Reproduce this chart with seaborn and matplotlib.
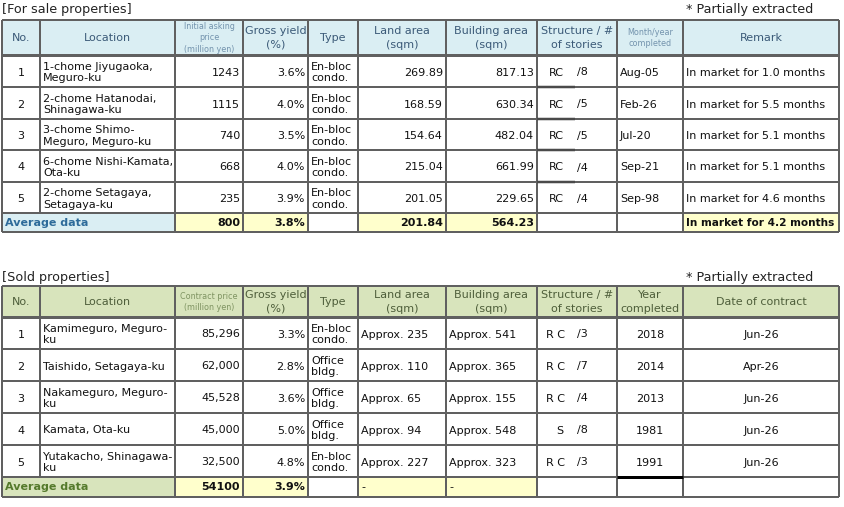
import matplotlib
matplotlib.use("Agg")
import matplotlib.pyplot as plt
from matplotlib.patches import Rectangle
import seaborn as sns

# ---- data: for sale properties ----
sale_no = [1, 2, 3, 4, 5]
sale_location = ["1-chome Jiyugaoka,\nMeguro-ku", "2-chome Hatanodai,\nShinagawa-ku",
                 "3-chome Shimo-\nMeguro, Meguro-ku", "6-chome Nishi-Kamata,\nOta-ku",
                 "2-chome Setagaya,\nSetagaya-ku"]
sale_price = [1243, 1115, 740, 668, 235]
sale_yield = [3.6, 4.0, 3.5, 4.0, 3.9]
sale_type = ["En-bloc\ncondo."] * 5
sale_land = [269.89, 168.59, 154.64, 215.04, 201.05]
sale_building = [817.13, 630.34, 482.04, 661.99, 229.65]
sale_structure = ["RC", "RC", "RC", "RC", "RC"]
sale_stories = [8, 5, 5, 4, 4]
sale_completed = ["Aug-05", "Feb-26", "Jul-20", "Sep-21", "Sep-98"]
sale_months = [1.0, 5.5, 5.1, 5.1, 4.6]
sale_avg_price = 800
sale_avg_yield = 3.8
sale_avg_land = 201.84
sale_avg_building = 564.23
sale_avg_months = 4.2

# ---- data: sold properties ----
sold_no = [1, 2, 3, 4, 5]
sold_location = ["Kamimeguro, Meguro-\nku", "Taishido, Setagaya-ku", "Nakameguro, Meguro-\nku",
                 "Kamata, Ota-ku", "Yutakacho, Shinagawa-\nku"]
sold_price = [85296, 62000, 45528, 45000, 32500]
sold_yield = [3.3, 2.8, 3.6, 5.0, 4.8]
sold_type = ["En-bloc\ncondo.", "Office\nbldg.", "Office\nbldg.", "Office\nbldg.", "En-bloc\ncondo."]
sold_land = [235, 110, 65, 94, 227]
sold_building = [541, 365, 155, 548, 323]
sold_structure = ["R C", "R C", "R C", "S", "R C"]
sold_stories = [3, 7, 4, 8, 3]
sold_year = [2018, 2014, 2013, 1981, 1991]
sold_contract = ["Jun-26", "Apr-26", "Jun-26", "Jun-26", "Jun-26"]
sold_avg_price = 54100
sold_avg_yield = 3.9

sale_headers = ["No.", "Location", "Initial asking\nprice\n(million yen)", "Gross yield\n(%)", "Type",
                "Land area\n(sqm)", "Building area\n(sqm)", "Structure / #\nof stories",
                "Month/year\ncompleted", "Remark"]
sold_headers = ["No.", "Location", "Contract price\n(million yen)", "Gross yield\n(%)", "Type",
                "Land area\n(sqm)", "Building area\n(sqm)", "Structure / #\nof stories",
                "Year\ncompleted", "Date of contract"]

# ---- layout (pixels) ----
col_edges = [2, 40, 175, 243, 308, 358, 446, 537, 617, 683, 839]
sale_rows = [20, 55, 87, 119, 150, 182, 213, 232]
sold_rows = [286, 317, 349, 381, 413, 445, 477, 497]

sns.set_theme(style="white")
plt.rcParams["font.family"] = ["DejaVu Sans"]

fig = plt.figure(figsize=(8.44, 5.07), dpi=100)
ax = fig.add_axes([0, 0, 1, 1])
ax.set_xlim(0, 844)
ax.set_ylim(507, 0)
ax.axis("off")

FS = 8
PX = 72 / 100
GRID = "#606060"
YELLOW = "#ffffcc"
BODY = "#111111"


def cell_text(col, r0, r1, text, align="left", dy=1.5, **kw):
    x0, x1 = col_edges[col], col_edges[col + 1]
    if align == "left":
        x = x0 + 3
    elif align == "right":
        x = x1 - 3
    else:
        x = (x0 + x1) / 2
    kw.setdefault("fontsize", FS)
    kw.setdefault("color", BODY)
    kw.setdefault("linespacing", 1.15)
    ax.text(x, (r0 + r1) / 2 + dy, text, ha=align, va="center", **kw)


def draw_table(rows, headers, head_fill, head_color, small_color, small_cols, body, avg, avg_fill, avg_color):
    top, bottom = rows[0], rows[-1]
    ax.add_patch(Rectangle((col_edges[0], rows[0]), col_edges[-1] - col_edges[0], rows[1] - rows[0],
                           facecolor=head_fill, edgecolor="none"))
    for c0, c1, fill in avg_fill:
        ax.add_patch(Rectangle((col_edges[c0], rows[-2]), col_edges[c1] - col_edges[c0], rows[-1] - rows[-2],
                               facecolor=fill, edgecolor="none"))
    # header text
    for c, h in enumerate(headers):
        if c in small_cols:
            cell_text(c, rows[0], rows[1], h, "center", dy=0.5, fontsize=5.8, color=small_color, linespacing=1.4)
        else:
            cell_text(c, rows[0], rows[1], h, "center", dy=0.5, fontsize=FS, color=head_color, linespacing=1.4)
    # body text
    for i, row in enumerate(body):
        r0, r1 = rows[i + 1], rows[i + 2]
        for c, text, align in row:
            if c == 7:
                mat, st = text
                ax.text(col_edges[7] + (23 if mat == "S" else 19), (r0 + r1) / 2 + 1.5, mat,
                        ha="center", va="center", fontsize=FS, color=BODY)
                ax.text(col_edges[7] + 40, (r0 + r1) / 2 + 1.5, st,
                        ha="left", va="center", fontsize=FS, color=BODY)
            else:
                cell_text(c, r0, r1, text, align)
    # average row
    r0, r1 = rows[-2], rows[-1]
    ax.text(col_edges[0] + 3, (r0 + r1) / 2 + 0.5, "Average data", ha="left", va="center",
            fontsize=FS, color=avg_color, fontweight="bold")
    for c, text, align, bold, size in avg:
        cell_text(c, r0, r1, text, align, dy=0.5, fontsize=size, fontweight="bold" if bold else "normal")
    # grid lines
    lw = 2 * PX
    for y in rows:
        ax.hlines(y, col_edges[0], col_edges[-1], color=GRID, lw=lw)
    ax.hlines(rows[1], col_edges[0], col_edges[-1], color=GRID, lw=3 * PX)
    for j, x in enumerate(col_edges):
        if j == 1:
            ax.vlines(x, top, rows[-2], color=GRID, lw=lw)
        else:
            ax.vlines(x, top, bottom, color=GRID, lw=lw)


sale_body = []
for i in range(5):
    sale_body.append([
        (0, str(sale_no[i]), "center"),
        (1, sale_location[i], "left"),
        (2, f"{sale_price[i]}", "right"),
        (3, f"{sale_yield[i]:.1f}%", "right"),
        (4, sale_type[i], "left"),
        (5, f"{sale_land[i]:.2f}", "right"),
        (6, f"{sale_building[i]:.2f}", "right"),
        (7, (sale_structure[i], f"/{sale_stories[i]}"), "left"),
        (8, sale_completed[i], "left"),
        (9, f"In market for {sale_months[i]:.1f} months", "left"),
    ])
sale_avg = [(2, f"{sale_avg_price}", "right", True, FS), (3, f"{sale_avg_yield:.1f}%", "right", True, FS),
            (5, f"{sale_avg_land:.2f}", "right", True, FS), (6, f"{sale_avg_building:.2f}", "right", True, FS),
            (9, f"In market for {sale_avg_months:.1f} months", "left", True, 7.6)]

sold_body = []
for i in range(5):
    sold_body.append([
        (0, str(sold_no[i]), "center"),
        (1, sold_location[i], "left"),
        (2, f"{sold_price[i]:,}", "right"),
        (3, f"{sold_yield[i]:.1f}%", "right"),
        (4, sold_type[i], "left"),
        (5, f"Approx. {sold_land[i]}", "left"),
        (6, f"Approx. {sold_building[i]}", "left"),
        (7, (sold_structure[i], f"/{sold_stories[i]}"), "left"),
        (8, str(sold_year[i]), "center"),
        (9, sold_contract[i], "center"),
    ])
sold_avg = [(2, f"{sold_avg_price}", "right", True, FS), (3, f"{sold_avg_yield:.1f}%", "right", True, FS),
            (5, "-", "left", False, FS), (6, "-", "left", False, FS)]

# titles
ax.text(2, 9, "[For sale properties]", ha="left", va="center", fontsize=9.2, color="#222222")
ax.text(813, 9, "* Partially extracted", ha="right", va="center", fontsize=9.2, color="#222222")
ax.text(2, 277, "[Sold properties]", ha="left", va="center", fontsize=9.2, color="#222222")
ax.text(813, 277, "* Partially extracted", ha="right", va="center", fontsize=9.2, color="#222222")

draw_table(sale_rows, sale_headers, "#daeef3", "#3b5a78", "#7393ad", {2, 8}, sale_body, sale_avg,
           [(0, 2, "#daeef3"), (2, 4, YELLOW), (5, 7, YELLOW), (9, 10, YELLOW)], "#2e6b9a")
draw_table(sold_rows, sold_headers, "#d8e4bc", "#4e5e3a", "#7f9462", {2}, sold_body, sold_avg,
           [(0, 2, "#d8e4bc"), (2, 4, YELLOW), (5, 7, YELLOW)], "#557a2c")

# small extra rules seen in the original
for i in range(4):
    ax.hlines(sale_rows[i + 2], col_edges[7], col_edges[7] + 38, color="#4a4a4a", lw=2.5 * PX)
ax.hlines(sold_rows[-2], col_edges[8], col_edges[9], color="#000000", lw=3 * PX)

fig.savefig("out.png", dpi=100)
